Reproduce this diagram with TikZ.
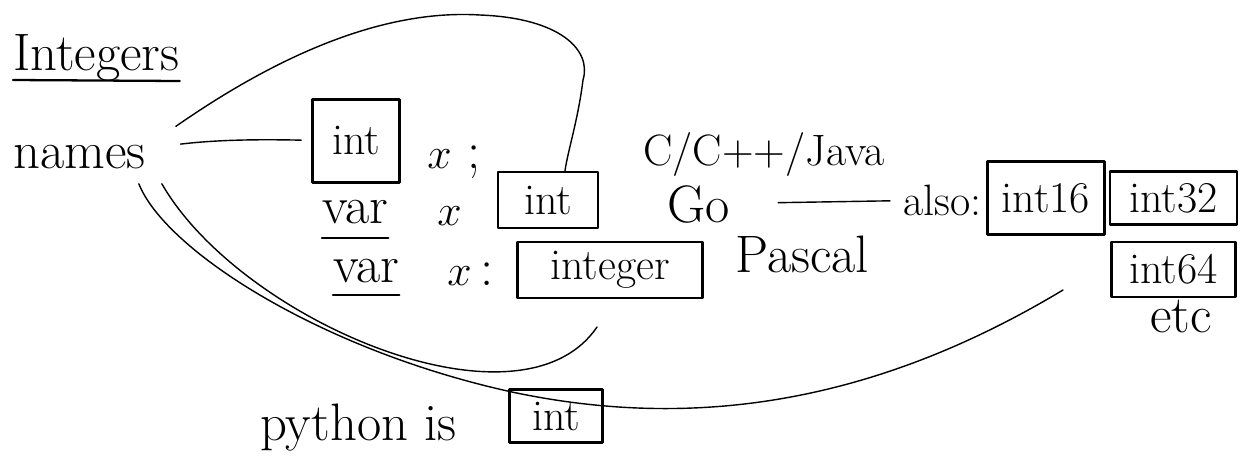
\documentclass[tikz,border=0pt]{standalone}
\usetikzlibrary{positioning}

\begin{document}
\begin{tikzpicture}[x=0.02cm,y=-0.02cm,line cap=round,line join=round,
    word node/.style={inner sep=0pt,anchor=base west,font=\fontsize{30}{34}\selectfont},
    small word/.style={word node,font=\fontsize{25}{30}\selectfont},
    box node/.style={draw,line width=1.5pt,inner sep=0pt,font=\fontsize{25}{30}\selectfont},
    link/.style={line width=0.8pt},
    underline/.style={line width=1.3pt}]
    \useasboundingbox (0,0) rectangle (1250,461);

    \node[word node] (title) at (13,70) {Integers};
    \node[word node] (names) at (13,168) {names};

    % C / C++ / Java
    \node[box node,minimum width=1.74cm,minimum height=1.66cm] (int1) at (356,141) {int};
    \node[word node] (xsemi) at (427,168) {$x$ ;};
    \node[small word] (clang) at (643,165) {C/C++/Java};

    % Go
    \node[word node] (var2) at (322,223) {var};
    \node[word node] (x2) at (437,225) {$x$};
    \node[box node,minimum width=2cm,minimum height=1.12cm] (int2) at (548,200) {int};
    \node[word node] (go) at (667,222) {Go};
    \node[small word] (also) at (903,215) {also:};
    \node[box node,minimum width=2.34cm,minimum height=1.46cm] (int16) at (1046,198) {int16};
    \node[box node,minimum width=2.54cm,minimum height=1.06cm,right=0.06cm of int16] (int32) {int32};
    \node[box node,minimum width=2.48cm,minimum height=1.1cm,below=0.3cm of int32] (int64) {int64};
    \node[word node] (etc) at (1150,332) {etc};

    % Pascal
    \node[word node] (var3) at (333,282) {var};
    \node[word node] (x3) at (447,285) {$x$\,:};
    \node[box node,minimum width=3.7cm,minimum height=1.12cm] (integer) at (610,270) {integer};
    \node[word node] (pascal) at (735,272) {Pascal};

    % Python
    \node[word node] (python) at (260,440) {python is};
    \node[box node,minimum width=1.86cm,minimum height=1.06cm] (pyint) at (556,416) {int};

    \coordinate (uend) at (597,327);
    \coordinate (farend) at (1063,290);

    \draw[underline] ([yshift=-0.2cm]title.base west) -- ([yshift=-0.22cm]title.base east);
    \draw[underline] ([yshift=-0.3cm]var2.base west) -- ([yshift=-0.3cm]var2.base east);
    \draw[underline] ([yshift=-0.26cm]var3.base west) -- ([yshift=-0.26cm]var3.base east);

    \path[link]
        (names) edge[bend left=4,shorten <=0.7cm,shorten >=0.2cm] (int1)
        (go) edge[shorten <=0.96cm,shorten >=0.26cm] (also)
    ;
    \draw[link] ([shift={(30,-18)}]names.north east) .. controls (300,40) and (400,10) .. (480,15)
        .. controls (560,18) and (592,50) .. (583,80)
        .. controls (578,120) and (568,150) .. ([xshift=0.34cm]int2.north);
    \draw[link] ([shift={(16,15)}]names.south east) .. controls (240,320) and (520,440) .. (uend);
    \draw[link] ([shift={(-7,15)}]names.south east) .. controls (165,250) and (320,350) .. (512,392)
        .. controls (700,432) and (880,400) .. (farend);
\end{tikzpicture}
\end{document}
